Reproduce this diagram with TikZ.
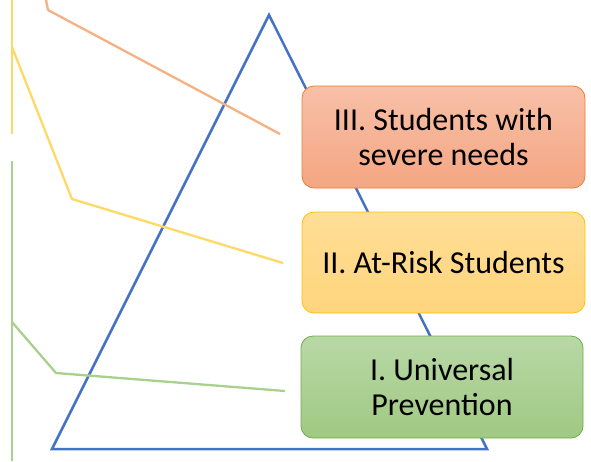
\documentclass[tikz,border=0pt]{standalone}
\usepackage{fontspec}
\setmainfont{Carlito}
\definecolor{triblue}{HTML}{4472C4}
\definecolor{orline}{HTML}{F4B183}
\definecolor{yeline}{HTML}{FFD966}
\definecolor{grline}{HTML}{A9D18E}
\definecolor{orborder}{HTML}{ED7D31}
\definecolor{yeborder}{HTML}{FFC000}
\definecolor{grborder}{HTML}{70AD47}
\begin{document}
\begin{tikzpicture}[x=1pt,y=-1pt,
  tier/.style={rounded corners=12pt, minimum width=283pt, minimum height=102pt,
    align=center, font=\fontsize{32}{35}\selectfont, text=black, line width=0.8pt, inner sep=0pt},
  leader/.style={line width=2.3pt, line join=round}]
\useasboundingbox (0,0) rectangle (591,461);
% triangle
\coordinate (apex) at (269,15);
\coordinate (bl) at (52,449);
\coordinate (br) at (487,449);
\draw[triblue, line width=2.5pt, line join=miter] (apex) -- (bl) -- (br) -- cycle;
% boxes
\node[tier, draw=orborder, top color={rgb,255:red,248;green,192;blue,168}, bottom color={rgb,255:red,244;green,166;blue,130}] (t3) at (443.5,137) {III. Students with\\severe needs};
\node[tier, draw=yeborder, minimum height=101pt, top color={rgb,255:red,255;green,222;blue,150}, bottom color={rgb,255:red,255;green,213;blue,125}] (t2) at (443.5,262.5) {II. At-Risk Students};
\node[tier, draw=grborder, minimum width=282pt, top color={rgb,255:red,184;green,216;blue,166}, bottom color={rgb,255:red,160;green,201;blue,130}] (t1) at (442,387) {I. Universal\\Prevention};
% leader lines
\coordinate (o0) at (46,0);
\coordinate (o1) at (48,10);
\coordinate (o2) at (280,134);
\draw[leader, orline] (o0) -- (o1) -- (o2);
\coordinate (y0) at (12,0);
\coordinate (y1) at (12,134);
\draw[leader, yeline] (y0) -- (y1);
\coordinate (ya) at (12,47);
\coordinate (yb) at (72,199);
\coordinate (yc) at (283,263);
\draw[leader, yeline] (ya) -- (yb) -- (yc);
\coordinate (g0) at (12,161);
\coordinate (g1) at (12,461);
\draw[leader, grline] (g0) -- (g1);
\coordinate (ga) at (12,322);
\coordinate (gb) at (56,373);
\coordinate (gc) at (285,391);
\draw[leader, grline] (ga) -- (gb) -- (gc);
\end{tikzpicture}
\end{document}
